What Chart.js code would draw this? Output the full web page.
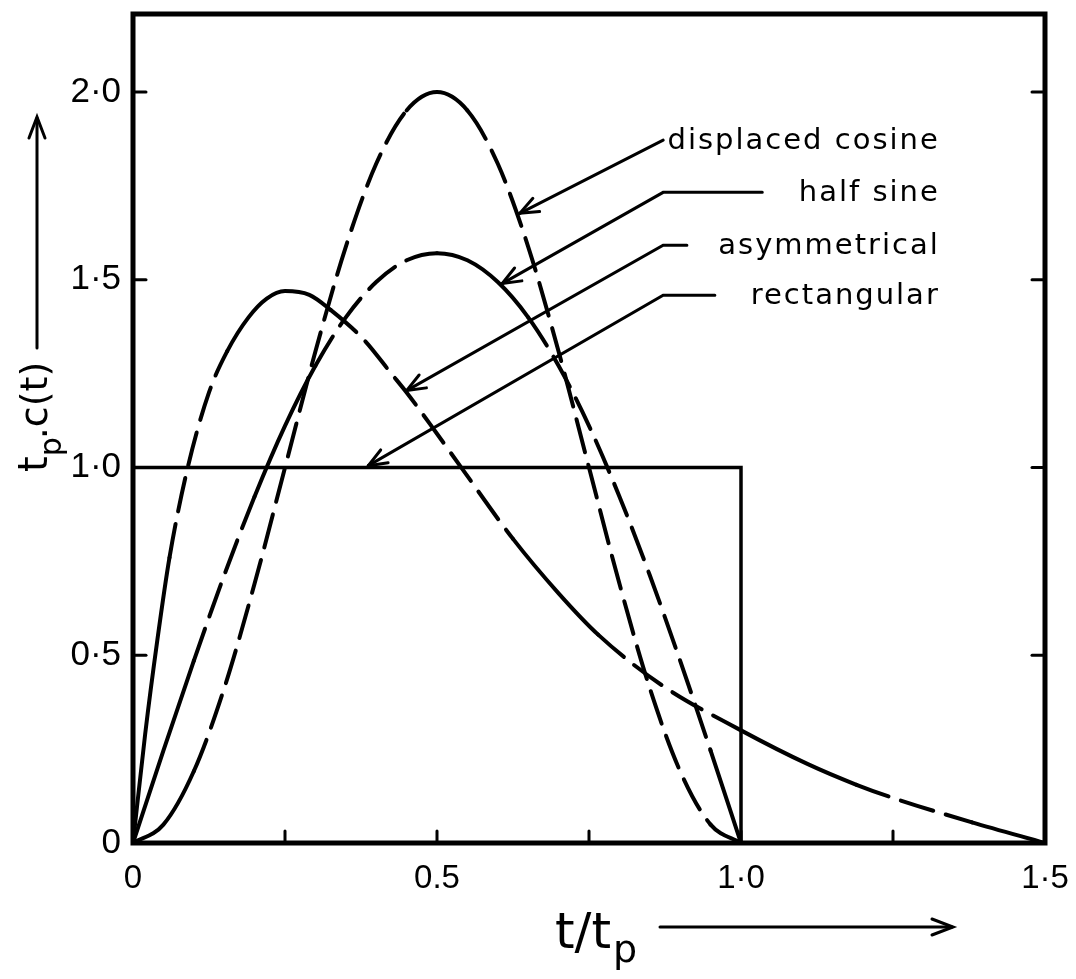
<!DOCTYPE html>
<html>
<head>
<meta charset="utf-8">
<script src="https://cdn.jsdelivr.net/npm/chart.js@4.4.1/dist/chart.umd.min.js"></script>
<style>
  html, body { margin: 0; padding: 0; background: #fff; }
  #wrap { width: 1076px; height: 979px; position: relative; }
</style>
</head>
<body>
<div id="wrap"><canvas id="pulseChart"></canvas></div>
<script>
// values
const xTicks = [0, 0.25, 0.5, 0.75, 1.0, 1.25, 1.5];
const xTickLabels = ['0', '', '0.5', '', '1·0', '', '1·5'];
const yTicks = [0, 0.5, 1.0, 1.5, 2.0];
const yTickLabels = ['0', '0·5', '1·0', '1·5', '2·0'];

const tGrid = [0, 0.05, 0.1, 0.15, 0.2, 0.25, 0.3, 0.35, 0.4, 0.45, 0.5,
               0.55, 0.6, 0.65, 0.7, 0.75, 0.8, 0.85, 0.9, 0.95, 1.0];
const displacedCosine = [0, 0.049, 0.191, 0.412, 0.691, 1.0, 1.309, 1.588, 1.809, 1.951, 2.0,
                         1.951, 1.809, 1.588, 1.309, 1.0, 0.691, 0.412, 0.191, 0.049, 0];
const halfSine = [0, 0.246, 0.485, 0.713, 0.923, 1.111, 1.271, 1.400, 1.494, 1.552, 1.571,
                  1.552, 1.494, 1.400, 1.271, 1.111, 0.923, 0.713, 0.485, 0.246, 0];

const asymT = [0, 0.02, 0.04, 0.06, 0.09, 0.125, 0.155, 0.19, 0.22, 0.25, 0.29, 0.325,
               0.38, 0.425, 0.45, 0.5, 0.54, 0.625, 0.7, 0.765, 0.87, 1.0, 1.11, 1.19,
               1.25, 1.38, 1.5];
const asymValues = [0, 0.29, 0.54, 0.76, 1.0, 1.2, 1.31, 1.40, 1.45, 1.47, 1.46, 1.42,
                    1.34, 1.25, 1.2, 1.09, 1.0, 0.81, 0.665, 0.555, 0.42, 0.3, 0.21, 0.155,
                    0.12, 0.055, 0];

const rectT = [0, 0, 1.0, 1.0];
const rectValues = [0, 1.0, 1.0, 0];

const curveLabels = ['displaced cosine', 'half sine', 'asymmetrical', 'rectangular'];

const pts = (xs, ys) => xs.map((x, i) => ({ x: x, y: ys[i] }));

// solid stretches of the otherwise dashed curves
const solidParts = {
    cos: [[0, 0.1], [0.45, 0.55], [0.95, 1.0]],
    sine: [[0, 0.1], [0.2, 0.3], [0.5, 0.65], [0.95, 1.0]],
    asym: [[0, 0.06], [0.155, 0.325], [0.625, 0.765], [1.0, 1.19], [1.38, 1.5]]
};
const dashFor = (key) => (ctx) => {
    const a = ctx.p0.parsed.x, b = ctx.p1.parsed.x;
    const solid = solidParts[key].some(r => a >= r[0] - 1e-9 && b <= r[1] + 1e-9);
    return solid ? [] : [34, 13];
};

const curve = (data, key) => ({
    data: data,
    borderColor: '#000',
    borderWidth: 4,
    pointRadius: 0,
    fill: false,
    cubicInterpolationMode: 'monotone',
    borderCapStyle: 'round',
    segment: { borderDash: dashFor(key) }
});

// frame, inward ticks, leader lines and axis titles
const decorations = {
    id: 'decorations',
    afterDatasetsDraw(chart) {
        const { ctx, chartArea: a, scales: { x, y } } = chart;
        ctx.save();
        ctx.strokeStyle = '#000';
        ctx.fillStyle = '#000';
        ctx.lineCap = 'round';

        // ticks
        ctx.lineWidth = 3;
        xTicks.slice(1, -1).forEach(v => {
            const px = x.getPixelForValue(v);
            ctx.beginPath(); ctx.moveTo(px, a.bottom); ctx.lineTo(px, a.bottom - 12); ctx.stroke();
        });
        yTicks.slice(1).forEach(v => {
            const py = y.getPixelForValue(v);
            ctx.beginPath(); ctx.moveTo(a.left, py); ctx.lineTo(a.left + 13, py); ctx.stroke();
            ctx.beginPath(); ctx.moveTo(a.right, py); ctx.lineTo(a.right - 13, py); ctx.stroke();
        });

        // frame
        ctx.lineWidth = 5;
        ctx.lineCap = 'square';
        ctx.strokeRect(a.left, a.top, a.right - a.left, a.bottom - a.top);

        // labels with leader lines (data units)
        const leaders = [
            { tip: [0.636, 1.677], elbow: 0.872, lineEnd: 0.872, row: 1.872 },
            { tip: [0.607, 1.49], elbow: 0.872, lineEnd: 1.035, row: 1.733 },
            { tip: [0.45, 1.205], elbow: 0.872, lineEnd: 0.911, row: 1.592 },
            { tip: [0.387, 1.005], elbow: 0.872, lineEnd: 0.957, row: 1.459 }
        ];
        ctx.lineWidth = 3;
        ctx.lineCap = 'round';
        ctx.font = '29px "DejaVu Sans"';
        ctx.textAlign = 'right';
        ctx.textBaseline = 'middle';
        leaders.forEach((l, i) => {
            const tx = x.getPixelForValue(l.tip[0]), ty = y.getPixelForValue(l.tip[1]);
            const ex = x.getPixelForValue(l.elbow), ry = y.getPixelForValue(l.row);
            const lx = x.getPixelForValue(l.lineEnd);
            ctx.beginPath();
            ctx.moveTo(lx, ry); ctx.lineTo(ex, ry); ctx.lineTo(tx, ty);
            ctx.stroke();
            const ang = Math.atan2(ry - ty, ex - tx);
            [0.38, -0.38].forEach(d => {
                ctx.beginPath();
                ctx.moveTo(tx, ty);
                ctx.lineTo(tx + 20 * Math.cos(ang + d), ty + 20 * Math.sin(ang + d));
                ctx.stroke();
            });
            ctx.letterSpacing = '2px';
            ctx.fillText(curveLabels[i], x.getPixelForValue(1.327), ry + 1);
        });
        ctx.letterSpacing = '0px';

        // x title
        ctx.textAlign = 'left';
        ctx.textBaseline = 'alphabetic';
        ctx.font = '50px "DejaVu Sans"';
        ctx.fillText('t/t', 555, 948);
        const w1 = ctx.measureText('t/t').width;
        ctx.font = '38px "DejaVu Sans"';
        ctx.fillText('p', 555 + w1 + 2, 962);
        ctx.lineWidth = 3;
        ctx.beginPath(); ctx.moveTo(660, 927); ctx.lineTo(952, 927); ctx.stroke();
        ctx.beginPath(); ctx.moveTo(932, 919); ctx.lineTo(953, 927); ctx.lineTo(932, 935); ctx.stroke();

        // y title
        ctx.save();
        ctx.translate(47, 472);
        ctx.rotate(-Math.PI / 2);
        ctx.font = '40px "DejaVu Sans"';
        ctx.fillText('t', 0, 0);
        const w2 = ctx.measureText('t').width;
        ctx.font = '30px "DejaVu Sans"';
        ctx.fillText('p', w2, 14);
        const w3 = ctx.measureText('p').width;
        ctx.font = '38px "DejaVu Sans"';
        ctx.fillText('.c(t)', w2 + w3 - 2, 0);
        ctx.restore();
        ctx.beginPath(); ctx.moveTo(37, 348); ctx.lineTo(37, 118); ctx.stroke();
        ctx.beginPath(); ctx.moveTo(29, 138); ctx.lineTo(37, 117); ctx.lineTo(45, 138); ctx.stroke();

        ctx.restore();
    }
};

new Chart(document.getElementById('pulseChart').getContext('2d'), {
    type: 'line',
    data: {
        datasets: [
            curve(pts(tGrid, displacedCosine), 'cos'),
            curve(pts(tGrid, halfSine), 'sine'),
            curve(pts(asymT, asymValues), 'asym'),
            {
                data: pts(rectT, rectValues),
                borderColor: '#000',
                borderWidth: 3.5,
                pointRadius: 0,
                fill: false,
                tension: 0
            }
        ]
    },
    options: {
        responsive: true,
        maintainAspectRatio: false,
        animation: false,
        layout: { padding: { left: 0, top: 14, right: 31, bottom: 0 } },
        plugins: { legend: { display: false }, tooltip: { enabled: false } },
        scales: {
            x: {
                type: 'linear',
                min: 0,
                max: 1.5,
                grid: { display: false, drawTicks: false },
                border: { display: false },
                afterBuildTicks: s => { s.ticks = xTicks.map(v => ({ value: v })); },
                afterFit: s => { s.height = 136; s.paddingLeft = 0; s.paddingRight = 0; },
                ticks: {
                    autoSkip: false,
                    maxRotation: 0,
                    padding: 16,
                    color: '#000',
                    font: { family: 'Liberation Sans', size: 33 },
                    callback: (v, i) => xTickLabels[i]
                }
            },
            y: {
                type: 'linear',
                min: 0,
                max: 2.208,
                grid: { display: false, drawTicks: false },
                border: { display: false },
                afterBuildTicks: s => { s.ticks = yTicks.map(v => ({ value: v })); },
                afterFit: s => { s.width = 133; s.paddingTop = 0; s.paddingBottom = 0; },
                ticks: {
                    autoSkip: false,
                    padding: 12,
                    color: '#000',
                    font: { family: 'Liberation Sans', size: 35 },
                    callback: (v, i) => yTickLabels[i]
                }
            }
        }
    },
    plugins: [decorations]
});
</script>
</body>
</html>
